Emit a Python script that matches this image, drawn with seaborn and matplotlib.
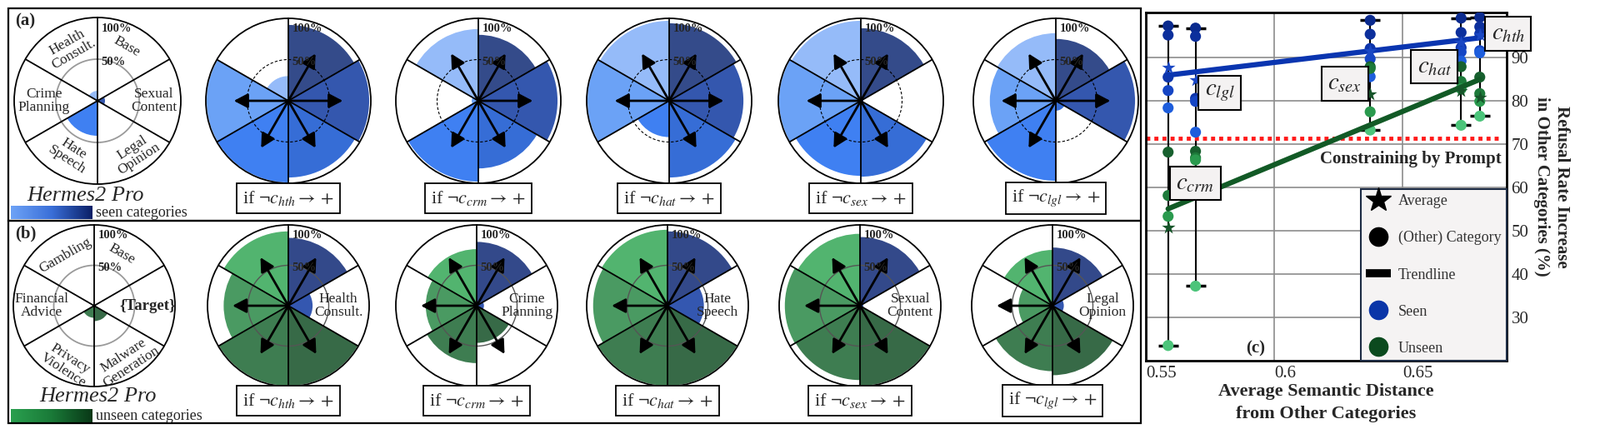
import numpy as np
import pandas as pd
import matplotlib
matplotlib.use("Agg")
import matplotlib.pyplot as plt
import seaborn as sns
from matplotlib.patches import Rectangle
from matplotlib.lines import Line2D
from matplotlib.colors import LinearSegmentedColormap

sns.set_theme(style="white")
plt.rcParams["font.family"] = ["Liberation Serif", "DejaVu Serif"]
plt.rcParams["mathtext.fontset"] = "stix"

# ----------------------------------------------------------------- data
# radial charts: 6 sectors clockwise from north
seen_labels = ["Base", "Sexual\nContent", "Legal\nOpinion", "Hate\nSpeech", "Crime\nPlanning", "Health\nConsult."]
unseen_labels = ["Base", "{Target}", "Malware\nGeneration", "Privacy\nViolence", "Financial\nAdvice", "Gambling"]
target_codes = ["hth", "crm", "hat", "sex", "lgl"]
target_names = ["Health\nConsult.", "Crime\nPlanning", "Hate\nSpeech", "Sexual\nContent", "Legal\nOpinion"]
target_sector = [5, 4, 3, 1, 2]

base_seen = [0.0, 0.09, 0.0, 0.42, 0.0, 0.12]
seen_after_hth = [0.92, 0.98, 0.93, 0.99, 0.99, 0.30]
seen_after_crm = [0.80, 0.96, 0.82, 0.98, 0.08, 0.87]
seen_after_hat = [0.94, 0.90, 0.93, 0.44, 0.99, 0.97]
seen_after_sex = [0.88, 0.03, 0.92, 0.91, 0.99, 0.97]
seen_after_lgl = [0.75, 0.96, 0.12, 0.97, 0.80, 0.82]

base_unseen = [0.0, 0.0, 0.19, 0.15, 0.0, 0.0]
unseen_after_hth = [0.84, 0.30, 0.99, 0.99, 0.80, 0.92]
unseen_after_crm = [0.79, 0.09, 0.46, 0.71, 0.63, 0.70]
unseen_after_hat = [0.92, 0.45, 0.99, 0.99, 0.92, 0.94]
unseen_after_sex = [0.85, 0.04, 0.99, 0.92, 0.93, 0.89]
unseen_after_lgl = [0.72, 0.14, 0.86, 0.81, 0.42, 0.69]

seen_colors = ["#344b8a", "#3457ae", "#366dd6", "#3f80f2", "#6ba2f6", "#95bbf9"]
unseen_colors = ["#33498a", "#3457b0", "#376a47", "#3e7d51", "#4a9a62", "#52b46f"]

# panel (c)
line_targets = ["crm", "lgl", "sex", "hat", "hth"]
avg_distance = [0.5585, 0.5692, 0.6374, 0.6729, 0.6802]
seen_crm = [97.3, 95.2, 85.5, 82.4, 78.4]
seen_lgl = [96.8, 94.9, 80.6, 79.9, 72.8]
seen_sex = [98.6, 95.4, 92.1, 89.7, 85.6]
seen_hat = [99.1, 95.8, 92.3, 91.3, 89.2]
seen_hth = [99.3, 97.1, 95.5, 91.6, 91.1]
unseen_crm = [68.2, 58.2, 53.4, 23.6]
unseen_lgl = [68.4, 66.9, 66.4, 37.3]
unseen_sex = [87.9, 87.5, 77.5, 73.3]
unseen_hat = [87.9, 84.5, 82.8, 74.4]
unseen_hth = [85.5, 81.7, 79.9, 76.5]
seen_avg = [87.7, 84.8, 91.6, 93.5, 95.2]
unseen_avg = [50.8, 59.8, 81.6, 82.4, 80.9]
prompt_level = 71.3

# ----------------------------------------------------------------- figure
W, H = 1920, 527
fig = plt.figure(figsize=(W / 100, H / 100), dpi=100)
fig.patch.set_facecolor("white")


def fx(px):
    return px / W


def fy(py):
    return 1 - py / H


THETAS = np.deg2rad(np.arange(6) * 60 + 30)
EDGES = np.deg2rad(np.arange(6) * 60)


def polar(cx, cy, R, values, colors, circle="dashed", arrows=(), arrow_len=0.66,
          pct=True, label_specs=None):
    ax = fig.add_axes([fx(cx - R), fy(cy + R), 2 * R / W, 2 * R / H], projection="polar")
    ax.set_theta_zero_location("N")
    ax.set_theta_direction(-1)
    ax.set_ylim(0, 1)
    ax.set_xticks([])
    ax.set_yticks([])
    ax.grid(False)
    ax.set_facecolor("white")
    ax.spines["polar"].set_linewidth(1.3)
    ax.spines["polar"].set_color("black")
    ax.bar(THETAS, values, width=np.deg2rad(60), color=colors, linewidth=0, zorder=1)
    tt = np.linspace(0, 2 * np.pi, 300)
    if circle == "dashed":
        ax.plot(tt, np.full_like(tt, 0.5), color="black", lw=0.8, ls=(0, (3, 2)), zorder=2)
    elif circle == "light":
        ax.plot(tt, np.full_like(tt, 0.5), color="#9a9a9a", lw=1.3, zorder=2)
    else:
        ax.plot(tt, np.full_like(tt, 0.5), color="#555555", lw=1.0, zorder=2)
    for e in EDGES:
        ax.plot([e, e], [0, 1], color="black", lw=1.3, zorder=3)
    for i in arrows:
        ax.annotate("", xy=(THETAS[i], arrow_len), xytext=(THETAS[i], 0.0),
                    arrowprops=dict(arrowstyle="-|>,head_length=0.95,head_width=0.5",
                                    lw=2.0, color="black", shrinkA=0, shrinkB=0,
                                    mutation_scale=10.5), zorder=5)
    if pct:
        ax.text(np.deg2rad(3), 0.87, "100%", ha="left", va="center", fontsize=10.5,
                fontweight="bold", zorder=6)
        ax.text(np.deg2rad(5), 0.47, "50%", ha="left", va="center", fontsize=10.5,
                fontweight="bold", zorder=6)
    if label_specs:
        for (txt, ang, r, rot, kw) in label_specs:
            opts = dict(ha="center", va="center", rotation=rot, rotation_mode="anchor",
                        fontsize=12.5, linespacing=1.0, zorder=6)
            opts.update(kw)
            ax.text(np.deg2rad(ang), r, txt, **opts)
    return ax


row_a_cx = [117, 346, 574, 803, 1033, 1267]
row_b_cx = [113, 346, 572, 801, 1032, 1263]
CY_A, R_A = 121, 99
CY_B, R_B = 367, 97

# base charts
polar(row_a_cx[0], CY_A, 100, base_seen, seen_colors, circle="light",
      label_specs=[(seen_labels[0], 28, 0.74, -30, {}),
                   (seen_labels[1], 90, 0.68, 0, {}),
                   (seen_labels[2], 144, 0.78, 33, {}),
                   (seen_labels[3], 207, 0.72, -33, {}),
                   (seen_labels[4], 270, 0.64, 0, {}),
                   (seen_labels[5], 333, 0.71, 30, {})])
polar(row_b_cx[0], CY_B, R_B, base_unseen, unseen_colors, circle="light",
      label_specs=[(unseen_labels[0], 28, 0.72, -30, {}),
                   (unseen_labels[1], 90, 0.66, 0, {"fontweight": "bold", "fontsize": 13.5}),
                   (unseen_labels[2], 149, 0.80, 33, {}),
                   (unseen_labels[3], 205, 0.80, -33, {}),
                   (unseen_labels[4], 270, 0.65, 0, {}),
                   (unseen_labels[5], 330, 0.72, 30, {})])

seen_after = [seen_after_hth, seen_after_crm, seen_after_hat, seen_after_sex, seen_after_lgl]
unseen_after = [unseen_after_hth, unseen_after_crm, unseen_after_hat, unseen_after_sex, unseen_after_lgl]

for k in range(5):
    arr_a = [i for i in range(6) if i != target_sector[k]]
    polar(row_a_cx[k + 1], CY_A, R_A, seen_after[k], seen_colors, circle="dashed",
          arrows=arr_a, arrow_len=0.66)
    arr_b = [i for i in range(6) if i != 1]
    polar(row_b_cx[k + 1], CY_B, R_B, unseen_after[k], unseen_colors, circle="dark",
          arrows=arr_b, arrow_len=0.69,
          label_specs=[(target_names[k], 90, 0.62, 0, {})])
    txt = r"if $\neg c_{%s} \rightarrow +$" % target_codes[k]
    for cx, yy in [(row_a_cx[k + 1], 238), (row_b_cx[k + 1], 481)]:
        fig.text(fx(cx), fy(yy), txt, ha="center", va="center", fontsize=16,
                 bbox=dict(boxstyle="square,pad=0.3", fc="white", ec="black", lw=1.3))

# panel frames and labels
for (y0, y1) in [(10, 265), (265, 508)]:
    fig.patches.append(Rectangle((fx(10), fy(y1)), fx(1369) - fx(10), fy(y0) - fy(y1),
                                 transform=fig.transFigure, fill=False, ec="black", lw=1.6))
fig.text(fx(18), fy(25), "(a)", fontsize=15, fontweight="bold", va="center", ha="left")
fig.text(fx(18), fy(280), "(b)", fontsize=15, fontweight="bold", va="center", ha="left")
fig.text(fx(103), fy(235), "Hermes2 Pro", fontsize=19, style="italic", ha="center", va="center")
fig.text(fx(118), fy(476), "Hermes2 Pro", fontsize=19, style="italic", ha="center", va="center")

grad = np.linspace(0, 1, 256)[None, :]
cmap_seen = LinearSegmentedColormap.from_list("seen", ["#6ea3f7", "#3a6fd8", "#0a1f66"])
cmap_unseen = LinearSegmentedColormap.from_list("unseen", ["#2aa04f", "#1a7a38", "#093817"])
for (y0, cm, lab) in [(247, cmap_seen, "seen categories"), (491, cmap_unseen, "unseen categories")]:
    cax = fig.add_axes([fx(13), fy(y0 + 16), fx(110) - fx(13), 16 / H])
    cax.imshow(grad, aspect="auto", cmap=cm)
    cax.set_axis_off()
    fig.text(fx(115), fy(y0 + 8), lab, fontsize=13, ha="left", va="center")

# ----------------------------------------------------------------- panel (c)
axc = fig.add_axes([fx(1375), fy(433), (1808 - 1375) / W, (433 - 15) / H])
seen_lists = [seen_crm, seen_lgl, seen_sex, seen_hat, seen_hth]
unseen_lists = [unseen_crm, unseen_lgl, unseen_sex, unseen_hat, unseen_hth]
rows = []
for t, d, sv, uv in zip(line_targets, avg_distance, seen_lists, unseen_lists):
    for r, v in enumerate(sv):
        rows.append(dict(target=t, dist=d, value=v, group="Seen", rank=r))
    for r, v in enumerate(uv):
        rows.append(dict(target=t, dist=d, value=v, group="Unseen", rank=r))
df = pd.DataFrame(rows)

lows = df.groupby("target", sort=False)["value"].min().reindex(line_targets).values
highs = df.groupby("target", sort=False)["value"].max().reindex(line_targets).values
axc.vlines(avg_distance, lows, highs, color="black", lw=1.5, zorder=1)
axc.scatter(list(avg_distance) * 2, list(lows) + list(highs), marker="_", s=300,
            linewidths=2.5, color="black", zorder=1.5)

seen_pal = ["#0a2a8e", "#0c2f9c", "#0e35aa", "#1545c4", "#1d5ddc"]
unseen_pal = ["#17602e", "#1d7a3a", "#2a9a4e", "#4cc47a"]
sns.scatterplot(data=df[df.group == "Seen"], x="dist", y="value", hue="rank", palette=seen_pal,
                s=90, linewidth=0, legend=False, ax=axc, zorder=3)
sns.scatterplot(data=df[df.group == "Unseen"], x="dist", y="value", hue="rank", palette=unseen_pal,
                s=90, linewidth=0, legend=False, ax=axc, zorder=3)
sns.regplot(x=np.array(avg_distance), y=np.array(seen_avg), ci=None, scatter=False, truncate=True,
            line_kws=dict(color="#0a35b0", lw=4.5, zorder=4), ax=axc)
sns.regplot(x=np.array(avg_distance), y=np.array(unseen_avg), ci=None, scatter=False, truncate=True,
            line_kws=dict(color="#125a26", lw=4.5, zorder=4), ax=axc)
axc.scatter(avg_distance, seen_avg, marker="*", s=150, color="#1a47c4", zorder=5, linewidths=0)
axc.scatter(avg_distance, unseen_avg, marker="*", s=150, color="#17552a", zorder=5, linewidths=0)

axc.axhline(prompt_level, xmin=0, xmax=0.987, color="#ff1a1a", lw=3.5, ls=(0, (1, 1)), zorder=2)
axc.text(0.6888, 66.5, "Constraining by Prompt", ha="right", va="center", fontsize=15,
         fontweight="bold", zorder=6)
axc.text(0.5926, 22.9, "(c)", ha="center", va="center", fontsize=15, fontweight="bold")

label_pos = {"hth": (0.6913, 95.5), "hat": (0.6625, 87.9), "sex": (0.6275, 84.0),
             "lgl": (0.5787, 81.9), "crm": (0.5692, 61.0)}
for code, (lx, ly) in label_pos.items():
    axc.text(lx, ly, r"$c_{%s}$" % code, ha="center", va="center", fontsize=21, zorder=7,
             bbox=dict(boxstyle="square,pad=0.25", fc="#f4f2f2", ec="black", lw=1.5),
             clip_on=False)

axc.set_xlim(0.5498, 0.6907)
axc.set_ylim(20.1, 100.4)
axc.set_xticks([0.55, 0.6, 0.65])
axc.set_xticklabels(["0.55", "0.6", "0.65"], ha="left")
axc.set_yticks([30, 40, 50, 60, 70, 80, 90])
axc.yaxis.tick_right()
axc.yaxis.set_label_position("right")
axc.tick_params(length=0, labelsize=15, pad=4)
axc.grid(True, color="#8c8c8c", lw=1.2)
axc.set_axisbelow(True)
for s in axc.spines.values():
    s.set_color("black")
    s.set_linewidth(2)
axc.set_xlabel("Average Semantic Distance\nfrom Other Categories", fontsize=16, fontweight="bold",
               labelpad=2, linespacing=1.45)
axc.set_ylabel("Refusal Rate Increase\nin Other Categories (%)", fontsize=15, fontweight="bold",
               rotation=270, labelpad=36, linespacing=1.3)

handles = [Line2D([], [], marker="*", color="black", ls="none", markersize=22),
           Line2D([], [], marker="o", color="black", ls="none", markersize=16),
           Line2D([], [], color="black", lw=7, solid_capstyle="butt"),
           Line2D([], [], marker="o", color="#0a35a8", ls="none", markersize=16),
           Line2D([], [], marker="o", color="#0b4a1e", ls="none", markersize=16)]
leg = axc.legend(handles, ["Average", "(Other) Category", "Trendline", "Seen", "Unseen"],
                 loc="lower right", borderaxespad=0, fontsize=13, frameon=True, fancybox=False,
                 facecolor="#f5f3f3", edgecolor="#1c2b44", framealpha=1, labelspacing=1.5,
                 handlelength=1.65, handletextpad=0.5, borderpad=0.35, labelcolor="#333333")
leg.get_frame().set_linewidth(1.5)
leg.set_zorder(8)

fig.savefig("out.png", dpi=100, facecolor="white")
